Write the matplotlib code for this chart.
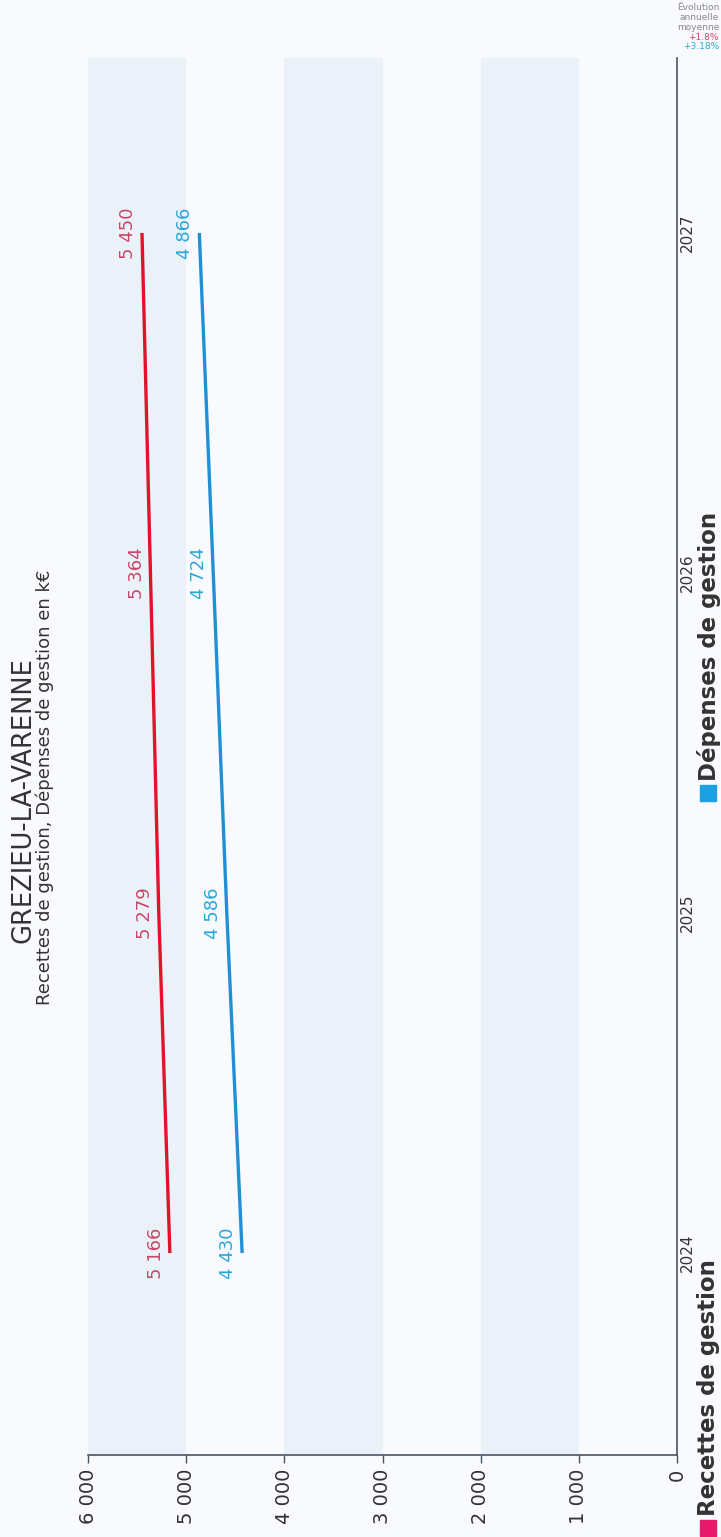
import matplotlib
matplotlib.use("Agg")
import matplotlib.pyplot as plt
from matplotlib.patches import Rectangle

plt.rcParams['font.family'] = ['DejaVu Sans']

# ---- data ----
years = [2024, 2025, 2026, 2027]
year_labels = ["2024", "2025", "2026", "2027"]
recettes = [5166, 5279, 5364, 5450]
depenses = [4430, 4586, 4724, 4866]
value_ticks = [0, 1000, 2000, 3000, 4000, 5000, 6000]
value_tick_labels = ["0", "1 000", "2 000", "3 000", "4 000", "5 000", "6 000"]
band_ranges = [(1000, 2000), (3000, 4000), (5000, 6000)]
series_names = ["Recettes de gestion", "Dépenses de gestion"]
evolution = ["+1.8%", "+3.18%"]
title = "GREZIEU-LA-VARENNE"
subtitle = "Recettes de gestion, Dépenses de gestion en k€"

# ---- style ----
W, H = 721, 1537
red_line = "#e0132b"
red_text = "#c94767"
blue_line = "#1f8fd6"
blue_text = "#2aa6dc"
red_leg = "#e8186a"
blue_leg = "#1f9fe3"
bg = "#f8fafd"
band_col = "#eaf1f8"
axis_col = "#4a5563"
text_col = "#333333"

fig = plt.figure(figsize=(W / 100, H / 100), dpi=100, facecolor=bg)

def fx(px):
    return px / W

def fy(py):
    return 1 - py / H

ax = fig.add_axes([fx(88), fy(1455), fx(677) - fx(88), fy(58) - fy(1455)])
ax.set_facecolor(bg)

for lo, hi in band_ranges:
    ax.axvspan(lo, hi, color=band_col, zorder=0, lw=0)

ax.plot(recettes, years, color=red_line, lw=2.4, solid_capstyle='butt', zorder=3)
ax.plot(depenses, years, color=blue_line, lw=2.4, solid_capstyle='butt', zorder=3)

for vals, col in ((recettes, red_text), (depenses, blue_text)):
    for v, yv in zip(vals, years):
        ax.annotate(f"{v:,}".replace(",", " "), xy=(v, yv), xytext=(-10, 0),
                    textcoords='offset points', rotation=90, ha='center', va='center',
                    fontsize=13, color=col)

y0 = years[0] - (1455 - 1253) / 340
y1 = years[-1] + (233 - 58) / 340
ax.set_ylim(y0, y1)
ax.set_xlim(value_ticks[-1], value_ticks[0])

ax.set_xticks(value_ticks)
ax.set_xticklabels(value_tick_labels, rotation=90, fontsize=14, color=text_col)
ax.tick_params(axis='x', length=6, width=1, color=axis_col, pad=4)
ax.yaxis.tick_right()
ax.set_yticks(years)
ax.set_yticklabels(year_labels, rotation=90, va='center', fontsize=11, color=text_col)
ax.tick_params(axis='y', length=0, pad=2)

for s in ['left', 'top']:
    ax.spines[s].set_visible(False)
for s in ['right', 'bottom']:
    ax.spines[s].set_color(axis_col)
    ax.spines[s].set_linewidth(1.2)

# titles
fig.text(fx(24), fy(800), title, rotation=90, ha='center', va='center',
         fontsize=18.5, color=text_col)
fig.text(fx(45), fy(787), subtitle, rotation=90, ha='center', va='center',
         fontsize=13, color=text_col)

# legend
fig.patches.append(Rectangle((fx(700), fy(1536)), fx(16), fy(1520) - fy(1536),
                             transform=fig.transFigure, color=red_leg, figure=fig))
fig.text(fx(709), fy(1516), series_names[0], rotation=90, ha='center', va='bottom',
         fontsize=16.5, fontweight='bold', color=text_col)
fig.patches.append(Rectangle((fx(700), fy(801)), fx(16), fy(785) - fy(801),
                             transform=fig.transFigure, color=blue_leg, figure=fig))
fig.text(fx(709), fy(781), series_names[1], rotation=90, ha='center', va='bottom',
         fontsize=16.5, fontweight='bold', color=text_col)

# evolution annotation
fig.text(fx(719), fy(3), "Évolution\nannuelle\nmoyenne", ha='right', va='top',
         fontsize=6.5, color="#888888", linespacing=1.15)
fig.text(fx(719), fy(33), evolution[0], ha='right', va='top', fontsize=6.5, color=red_text)
fig.text(fx(719), fy(42), evolution[1], ha='right', va='top', fontsize=6.5, color=blue_text)

fig.savefig("out.png", dpi=100, facecolor=bg)
